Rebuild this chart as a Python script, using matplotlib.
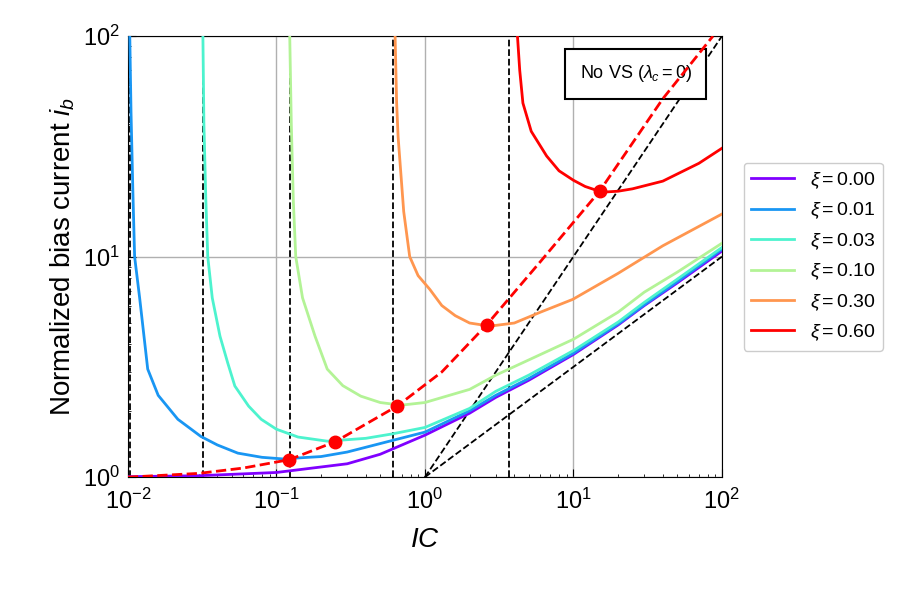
import numpy as np
import matplotlib
matplotlib.use("Agg")
from matplotlib import pyplot as plt

plt.rcParams["font.family"] = ["Liberation Sans", "DejaVu Sans"]
plt.rcParams["mathtext.fontset"] = "custom"
plt.rcParams["mathtext.it"] = "Liberation Sans:italic"
plt.rcParams["mathtext.rm"] = "Liberation Sans"

xi_labels = ["0.00", "0.01", "0.03", "0.10", "0.30", "0.60"]

# (IC, ib) for each xi
ic_00 = [0.01, 0.03, 0.1, 0.3, 0.5, 1, 2, 3, 5, 10, 20, 30, 50, 100]
ib_00 = [1.005, 1.015, 1.05, 1.15, 1.27, 1.55, 1.95, 2.3, 2.75, 3.6, 4.9, 6.0, 7.6, 10.6]

ic_01 = [0.0103, 0.0105, 0.0108, 0.0111, 0.012, 0.0136, 0.016, 0.0217, 0.031, 0.04,
         0.055, 0.08, 0.11, 0.2, 0.3, 0.5, 1, 2, 3, 5, 10, 20, 30, 50, 100]
ib_01 = [100, 45, 20, 10, 6.5, 3.09, 2.35, 1.83, 1.53, 1.4,
         1.285, 1.23, 1.21, 1.24, 1.3, 1.42, 1.6, 2.0, 2.35, 2.8, 3.65, 4.95, 6.05, 7.7, 10.8]

ic_03 = [0.032, 0.0325, 0.0335, 0.0345, 0.037, 0.0417, 0.047, 0.0525, 0.065, 0.079, 0.1,
         0.14, 0.22, 0.4, 0.6, 1, 2, 3, 5, 10, 20, 30, 50, 100]
ib_03 = [100, 40, 18, 10, 6.5, 4.36, 3.3, 2.59, 2.1, 1.83, 1.65,
         1.52, 1.456, 1.5, 1.57, 1.68, 2.05, 2.45, 2.9, 3.75, 5.05, 6.2, 7.9, 11.0]

ic_10 = [0.123, 0.126, 0.13, 0.135, 0.15, 0.182, 0.22, 0.28, 0.37, 0.5, 0.69, 1, 2, 3, 5,
         10, 20, 30, 50, 100]
ib_10 = [100, 40, 18, 10, 6.5, 4.36, 3.09, 2.6, 2.33, 2.18, 2.12, 2.18, 2.5, 2.9, 3.4,
         4.22, 5.6, 6.9, 8.5, 11.5]

ic_30 = [0.63, 0.645, 0.66, 0.72, 0.79, 0.9, 1.08, 1.3, 1.6, 2.0, 2.74, 4, 6, 9.9,
         20, 40, 100]
ib_30 = [100, 50, 35, 16, 10, 8.2, 7.1, 6.0, 5.4, 5.0, 4.84, 5.0, 5.6, 6.4,
         8.4, 11.2, 15.6]

ic_60 = [4.2, 4.35, 4.57, 5.2, 6.6, 8, 10, 12, 15.6, 20, 25, 40, 70, 100]
ib_60 = [100, 70, 49.7, 37, 28.6, 24.5, 22.2, 20.8, 19.6, 19.8, 20.3, 22, 26.5, 31]

curves = [(ic_00, ib_00), (ic_01, ib_01), (ic_03, ib_03),
          (ic_10, ib_10), (ic_30, ib_30), (ic_60, ib_60)]

# optimum points and locus
opt_ic = [0.122, 0.25, 0.65, 2.6, 15.0]
opt_ib = [1.2, 1.45, 2.1, 4.9, 19.8]
locus_ic = [0.01, 0.03, 0.06, 0.122, 0.25, 0.65, 1.3, 2.6, 6, 15.0, 40, 87]
locus_ib = [1.0, 1.04, 1.1, 1.2, 1.45, 2.1, 3.0, 4.9, 9.5, 19.8, 52, 100]

asym_ic = [0.0103, 0.032, 0.123, 0.61, 3.7]
asym_x = [1, 100]
asym_half = [1, 10]
asym_full = [1, 100]

fig = plt.figure(figsize=(9.2, 5.92), dpi=100)
ax = fig.add_axes([0.139, 0.194, 0.6457, 0.745])
colors = plt.cm.rainbow(np.linspace(0, 1, 6))

for (ic, ib), lab, c in zip(curves, xi_labels, colors):
    ax.plot(ic, ib, color=c, lw=2, label=rf"$\xi = {lab}$", zorder=3)

for a in asym_ic:
    ax.axvline(a, color="black", ls="--", lw=1.3, zorder=2)
ax.plot(asym_x, asym_half, "k--", lw=1.3, zorder=2)
ax.plot(asym_x, asym_full, "k--", lw=1.3, zorder=2)

ax.plot(locus_ic, locus_ib, color="red", ls="--", lw=2, zorder=4)
ax.plot(opt_ic, opt_ib, "o", color="red", ms=9, zorder=5)

ax.set_xscale("log")
ax.set_yscale("log")
ax.set_xlim(1e-2, 1e2)
ax.set_ylim(1, 100)
ax.grid(True, which="major", color="#b0b0b0", lw=1)
ax.tick_params(which="both", direction="in", labelsize=17)
ax.tick_params(which="major", length=6)
ax.tick_params(axis="x", pad=8)
ax.tick_params(axis="y", pad=6)
ax.set_xlabel(r"$IC$", fontsize=20, labelpad=10)
ax.set_ylabel(r"Normalized bias current $i_b$", fontsize=20)

ax.text(0.855, 0.915, r"No VS ($\lambda_c = 0$)", transform=ax.transAxes,
        ha="center", va="center", fontsize=13,
        bbox=dict(boxstyle="square,pad=0.8", fc="white", ec="black", lw=1.5))

leg = ax.legend(loc="center left", bbox_to_anchor=(1.02, 0.5), fontsize=14,
                fancybox=True, framealpha=1, handlelength=2.2)

fig.savefig("out.png", dpi=100)
